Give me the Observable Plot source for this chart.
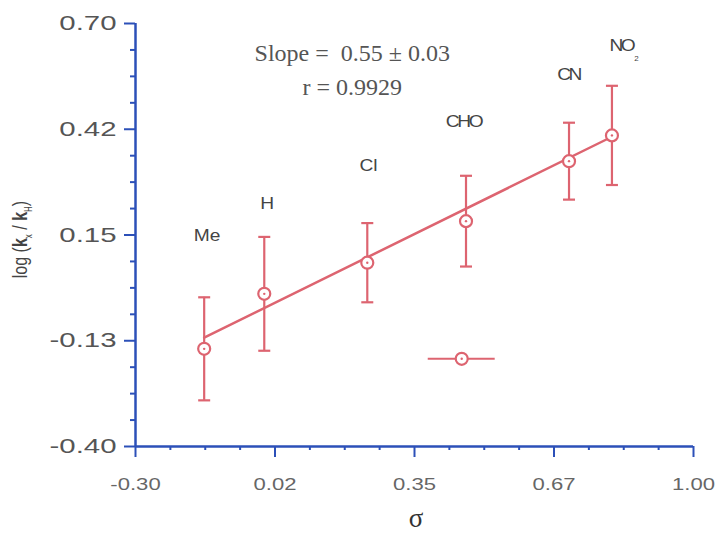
<!DOCTYPE html>
<html><head><meta charset="utf-8">
<script src="https://cdn.jsdelivr.net/npm/d3@7"></script>
<script src="https://cdn.jsdelivr.net/npm/@observablehq/plot@0.6"></script>
<style>html,body{margin:0;padding:0;background:#fff;}#chart{width:719px;height:535px;}</style>
</head><body><div id="chart"></div>
<script>
// ---- data ----
const substituents = ["Me", "H", "Cl", "CHO", "CN", "NO"];
const sigma = [-0.14, 0.00, 0.24, 0.47, 0.71, 0.81];
const logK  = [-0.146, -0.003, 0.078, 0.186, 0.342, 0.409];
const errK  = [0.134, 0.148, 0.103, 0.118, 0.100, 0.129];
const labelSigma = [-0.133, 0.007, 0.243, 0.464, 0.709, 0.832];
const labelLogK  = [0.149, 0.232, 0.331, 0.443, 0.567, 0.643];
const fitSlope = 0.55;
const fitIntercept = -0.040;
const refSigma = [0.46];
const refLogK = [-0.172];
const refErrSigma = [0.078];
const statsText = ["Slope = \u00a00.55 \u00b1 0.03", "r = 0.9929"];
const statsSigma = [0.205, 0.205];
const statsLogK = [0.602, 0.513];
const xTickValues = [-0.30, 0.025, 0.35, 0.675, 1.00];
const xTickLabels = ["-0.30", "0.02", "0.35", "0.67", "1.00"];
const yTickValues = [-0.40, -0.125, 0.15, 0.425, 0.70];
const yTickLabels = ["-0.40", "-0.13", "0.15", "0.42", "0.70"];

// ---- derived ----
const RED = "#dd6470", BLUE = "#2c50b8";
const minorBetween = (ticks) => {
  const out = [];
  for (let i = 0; i < ticks.length - 1; i++)
    for (let j = 1; j < 4; j++) out.push(ticks[i] + (ticks[i + 1] - ticks[i]) * j / 4);
  return out;
};
const xMinor = minorBetween(xTickValues);
const yMinor = minorBetween(yTickValues);
const pts = substituents.map((s, i) => ({s, x: sigma[i], y: logK[i], lo: logK[i] - errK[i], hi: logK[i] + errK[i]}));
const labels = substituents.map((s, i) => ({s, x: labelSigma[i], y: labelLogK[i]}));
const fit = d3.extent(sigma).map(x => ({x, y: fitSlope * x + fitIntercept}));
const ref = refSigma.map((x, i) => ({x, y: refLogK[i], x1: x - refErrSigma[i], x2: x + refErrSigma[i]}));
const stats = statsText.map((t, i) => ({t, x: statsSigma[i], y: statsLogK[i]}));
const capSymbol = {draw(ctx, size) { const r = Math.sqrt(size / Math.PI); ctx.moveTo(-r, 0); ctx.lineTo(r, 0); }};
const xDom = [xTickValues[0], xTickValues[xTickValues.length - 1]];
const yDom = [yTickValues[0], yTickValues[yTickValues.length - 1]];

const chart = Plot.plot({
  width: 719, height: 535,
  marginLeft: 135, marginRight: 26, marginTop: 23, marginBottom: 89,
  x: {domain: xDom}, y: {domain: yDom},
  style: {background: "#fff", fontFamily: "'Liberation Sans', Arial, sans-serif"},
  marks: [
    Plot.axisY(yMinor, {tickSize: 5, strokeWidth: 2, stroke: BLUE, tickFormat: () => "", label: null}),
    Plot.axisY(yTickValues, {tickSize: 11, strokeWidth: 2, stroke: BLUE, fill: "#555", fontSize: 21, tickPadding: 8,
      tickFormat: d => yTickLabels[yTickValues.indexOf(d)], label: null, ariaLabel: "ymajor"}),
    Plot.axisX(xMinor, {tickSize: 4, strokeWidth: 2, stroke: BLUE, tickFormat: () => "", label: null}),
    Plot.axisX(xTickValues, {tickSize: 11, strokeWidth: 2, stroke: BLUE, fill: "#666", fontSize: 17, tickPadding: 20,
      tickFormat: d => xTickLabels[xTickValues.indexOf(d)], label: null, ariaLabel: "xmajor"}),
    Plot.ruleX([xDom[0]], {stroke: BLUE, strokeWidth: 2.5}),
    Plot.ruleY([yDom[0]], {stroke: BLUE, strokeWidth: 2.5}),
    Plot.ruleX(pts, {x: "x", y1: "lo", y2: "hi", stroke: RED, strokeWidth: 2.2}),
    Plot.dot(pts, {x: "x", y: "hi", symbol: capSymbol, r: 6, stroke: RED, strokeWidth: 2.2, fill: "none"}),
    Plot.dot(pts, {x: "x", y: "lo", symbol: capSymbol, r: 6, stroke: RED, strokeWidth: 2.2, fill: "none"}),
    Plot.line(fit, {x: "x", y: "y", stroke: RED, strokeWidth: 2.5}),
    Plot.dot(pts, {x: "x", y: "y", r: 6, fill: "white", stroke: RED, strokeWidth: 2.2}),
    Plot.dot(pts, {x: "x", y: "y", r: 1.2, fill: RED}),
    Plot.ruleY(ref, {y: "y", x1: "x1", x2: "x2", stroke: RED, strokeWidth: 2}),
    Plot.dot(ref, {x: "x", y: "y", r: 6, fill: "white", stroke: RED, strokeWidth: 2.2}),
    Plot.dot(ref, {x: "x", y: "y", r: 1.2, fill: RED}),
    Plot.text(labels, {x: "x", y: "y", text: "s", fontSize: 16, fill: "#444", className: "sublabel"}),
    Plot.text(labels.slice(5), {x: "x", y: "y", text: () => "2", fontSize: 8, fill: "#444", dx: 15, dy: 13}),
    Plot.text(stats, {x: "x", y: "y", text: "t", lineAnchor: "bottom", fontSize: 24, fill: "#555",
      fontFamily: "'Liberation Serif', 'Times New Roman', serif"})
  ]
});
document.getElementById("chart").appendChild(chart);

// horizontal stretch of text (reference glyphs are wide)
function stretch(nodes, k) {
  nodes.forEach(el => {
    const t = el.getAttribute("transform");
    if (t && t.includes("translate")) el.setAttribute("transform", t + ` scale(${k},1)`);
  });
}
stretch(chart.querySelectorAll('g[aria-label="ymajor"] text, g[aria-label="ymajor tick label"] text'), 1.4);
stretch(chart.querySelectorAll('g[aria-label="xmajor"] text, g[aria-label="xmajor tick label"] text'), 1.3);
const labelTexts = chart.querySelectorAll('g.sublabel text');
stretch(labelTexts, 1.2);
labelTexts.forEach(el => { if (el.textContent.length > 1 && el.textContent !== "Me" && el.textContent !== "Cl") el.setAttribute("letter-spacing", "-2"); });

// axis titles
const svg = d3.select(chart);
const xs = chart.scale("x"), ys = chart.scale("y");
const midY = (ys.apply(yDom[0]) + ys.apply(yDom[1])) / 2;
const yt = svg.append("text")
  .attr("transform", `translate(27,${midY + 5}) rotate(-90) scale(1,1.3)`)
  .attr("text-anchor", "middle")
  .attr("font-family", "'Liberation Sans', Arial, sans-serif")
  .attr("font-size", 16).attr("fill", "#444");
yt.append("tspan").text("log (");
yt.append("tspan").attr("font-weight", "bold").text("k");
yt.append("tspan").attr("font-size", 8).attr("dy", 4).text("x");
yt.append("tspan").attr("dy", -4).text(" / ");
yt.append("tspan").attr("font-weight", "bold").text("k");
yt.append("tspan").attr("font-size", 8).attr("dy", 4).text("H");
yt.append("tspan").attr("dy", -4).text(")");
svg.append("text")
  .attr("x", (xs.apply(xDom[0]) + xs.apply(xDom[1])) / 2 + 2)
  .attr("y", 527)
  .attr("text-anchor", "middle")
  .attr("font-family", "'Liberation Serif', 'Times New Roman', serif")
  .attr("font-size", 27).attr("fill", "#333")
  .text("σ");
</script>
</body></html>
